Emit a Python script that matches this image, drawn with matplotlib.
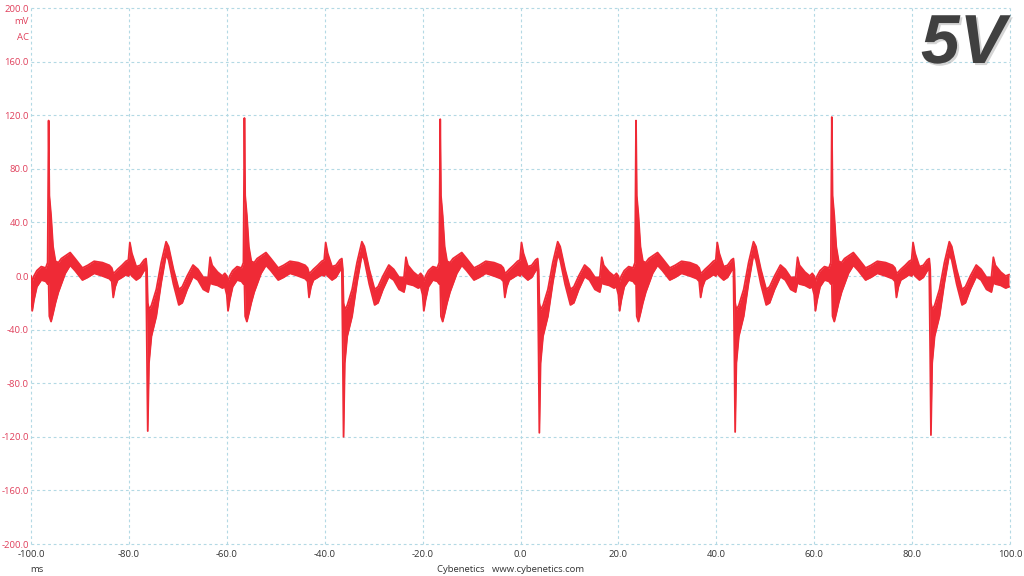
import numpy as np
import matplotlib
matplotlib.use('Agg')
import matplotlib.pyplot as plt
import matplotlib.patheffects as pe

# one 40 ms period, time relative to the positive spike (ms), upper / lower edge of the noisy trace (mV)
cycle_tau = [-4.0, -3.6, -3.35, -3.0, -2.4, -1.5, -0.6, -0.2,
             0.0, 0.15, 0.5, 0.9, 1.4, 2.0, 2.6, 3.4, 4.4, 5.4, 6.9, 8.0, 9.3, 11.0,
             12.4, 12.9, 13.2, 13.6, 14.1, 15.0, 15.8, 16.3, 16.6, 17.0, 17.9, 18.7,
             19.5, 19.9, 20.1, 20.25, 20.5, 21.0, 22.0, 23.0, 24.0, 24.5, 25.5, 26.6,
             27.3, 28.3, 29.5, 30.5, 31.6, 32.6, 33.0, 33.4, 34.5, 35.5]
cycle_hi = [2, 0, -4, 0, 4, 7, 6, 10,
            117, 60, 45, 22, 11, 10, 13, 15, 17.5, 13, 6, 8, 11, 10,
            8, 6, 2, 3, 5, 8, 11, 12, 25, 17, 7, 8,
            12, 13, 5, -20, -25, -22, -10, 10, 25.6, 22, 5, -10,
            -8, 0, 8.2, 5, -1, -1, 14, 8, 3, 0]
cycle_lo = [-8, -14, -26, -18, -8, -3, -4, -6,
            -5, -30, -34, -28, -20, -12, -6, 2, 8, 4, -3, -1, 2, 0,
            -2, -4, -16, -8, -3, -1, 1, 0, 2, 0, -3, -1,
            4, 5, -60, -118, -65, -45, -30, -5, 16, 12, -6, -21.6,
            -20, -10, -0.5, -3, -10, -12, -5, -6, -7, -9]

# spike times and peaks read per period
pos_spike_t = [-96.4, -56.4, -16.4, 23.6, 63.6]
pos_peak = [116.0, 117.9, 117.0, 116.0, 118.6]
neg_peak = [-115.7, -120.0, -117.0, -116.4, -118.7]

tail_t = [99.8]
tail_hi = [1]
tail_lo = [-8]

y_ticks = [-200, -160, -120, -80, -40, 0, 40, 80, 120, 160, 200]
x_ticks = [-100, -80, -60, -40, -20, 0, 20, 40, 60, 80, 100]

red = '#ef2a36'
grid_col = '#b3d9e4'

t_all, hi_all, lo_all = [], [], []
i_pos = cycle_tau.index(0.0)
i_neg = cycle_tau.index(20.25)
for t0, pp, npk in zip(pos_spike_t, pos_peak, neg_peak):
    hi = list(cycle_hi)
    lo = list(cycle_lo)
    hi[i_pos] = pp
    lo[i_neg] = npk
    t_all += [t0 + tau for tau in cycle_tau]
    hi_all += hi
    lo_all += lo
t_all += tail_t
hi_all += tail_hi
lo_all += tail_lo
t_all = np.array(t_all)
hi_all = np.array(hi_all, dtype=float)
lo_all = np.array(lo_all, dtype=float)

plt.rcParams['font.family'] = ['Open Sans', 'DejaVu Sans']

fig = plt.figure(figsize=(10.24, 5.76), dpi=100)
ax = fig.add_axes([31 / 1024, 32 / 576, 979 / 1024, 536 / 576])

ax.fill_between(t_all, lo_all, hi_all, color=red, lw=0, zorder=3)
ax.plot(t_all, hi_all, color=red, lw=1.3, zorder=3)
ax.plot(t_all, lo_all, color=red, lw=1.3, zorder=3)

ax.set_xlim(-100, 100)
ax.set_ylim(-200, 200)
ax.set_xticks(x_ticks)
ax.set_yticks(y_ticks)
ax.set_xticklabels(['%.1f' % v for v in x_ticks], color='#333333', fontsize=6.8)
ax.set_yticklabels(['%.1f' % v for v in y_ticks], color='#e0405c', fontsize=6.8)
ax.tick_params(axis='both', length=0)
ax.tick_params(axis='y', pad=1.5)
ax.tick_params(axis='x', pad=4)
ax.grid(True, color=grid_col, linestyle=(0, (2.5, 2.5)), lw=0.8, zorder=0)
for s in ax.spines.values():
    s.set_visible(False)
for gl in ax.get_xgridlines() + ax.get_ygridlines():
    gl.set_clip_on(False)

fig.text(29 / 1024, 1 - 22 / 576, 'mV', color='#e0405c', fontsize=6.8, ha='right', va='center')
fig.text(29 / 1024, 1 - 37 / 576, 'AC', color='#e0405c', fontsize=6.8, ha='right', va='center')
fig.text(37 / 1024, 1 - 569 / 576, 'ms', color='#333333', fontsize=6.8, ha='center', va='center')
fig.text(511 / 1024, 1 - 569 / 576, 'Cybenetics   www.cybenetics.com', color='#333333',
         fontsize=6.8, ha='center', va='center')

fig.text(1006 / 1024, 1 - 63 / 576, '5V', family='Liberation Sans', fontsize=50,
         fontweight='bold', fontstyle='italic', color='#404040', ha='right', va='baseline',
         path_effects=[pe.withSimplePatchShadow(offset=(1.5, -1.5), shadow_rgbFace='#aaaaaa', alpha=0.5)])

fig.savefig('out.png', dpi=100)
